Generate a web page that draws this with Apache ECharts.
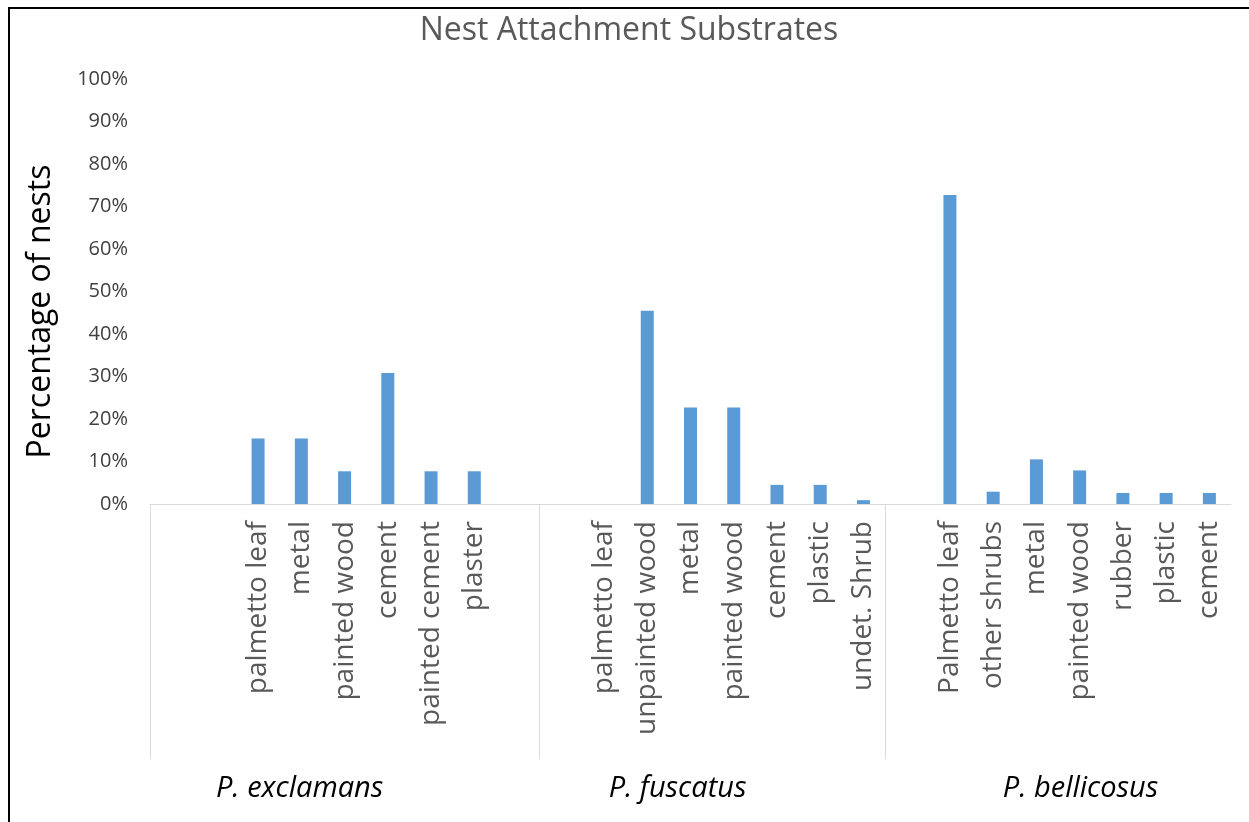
<!DOCTYPE html>
<html>
<head>
<meta charset="utf-8">
<script src="https://cdn.jsdelivr.net/npm/echarts@6/dist/echarts.min.js"></script>
<style>
  html, body { margin: 0; padding: 0; background: #fff; overflow: hidden; }
  #chart { width: 1249px; height: 822px; }
  #frame { position: absolute; left: 8px; top: 7px; width: 1300px; height: 900px;
           border-left: 2px solid #000; border-top: 2px solid #000; pointer-events: none; }
</style>
</head>
<body>
<div id="chart"></div>
<div id="frame"></div>
<script>
// ---- data (blank '' slots are empty categories in the source sheet) ----
const groups = ['P. exclamans', 'P. fuscatus', 'P. bellicosus'];
const exclamansCats = ['', '', 'palmetto leaf', 'metal', 'painted wood', 'cement', 'painted cement', 'plaster', ''];
const exclamansVals = [null, null, 15.4, 15.4, 7.7, 30.8, 7.7, 7.7, null];
const fuscatusCats = ['', 'palmetto leaf', 'unpainted wood', 'metal', 'painted wood', 'cement', 'plastic', 'undet. Shrub'];
const fuscatusVals = [null, 0, 45.5, 22.7, 22.7, 4.5, 4.5, 0.9];
const bellicosusCats = ['', 'Palmetto leaf', 'other shrubs', 'metal', 'painted wood', 'rubber', 'plastic', 'cement'];
const bellicosusVals = [null, 72.7, 2.9, 10.5, 7.9, 2.6, 2.6, 2.6];
const yTicks = [0, 10, 20, 30, 40, 50, 60, 70, 80, 90, 100];

// ---- build ----
const groupCats = [exclamansCats, fuscatusCats, bellicosusCats];
const categories = [].concat(exclamansCats, fuscatusCats, bellicosusCats);
const values = [].concat(exclamansVals, fuscatusVals, bellicosusVals);
const boundaries = [];
let acc = 0;
groupCats.forEach(g => { boundaries.push(acc); acc += g.length; });
const nSlots = acc;
// layout: where each group name sits along the slot axis (slot units)
const groupLabelAt = [3.46, 12.2, 21.52];

const FONT = '"Open Sans", "Noto Sans", sans-serif';
const chart = echarts.init(document.getElementById('chart'), null, { renderer: 'canvas' });
chart.setOption({
  backgroundColor: '#fff',
  animation: false,
  title: {
    text: 'Nest Attachment Substrates',
    left: 624, textAlign: 'center', top: 10,
    textStyle: { fontFamily: FONT, fontSize: 32, fontWeight: 'normal', color: '#595959' }
  },
  grid: { left: 150, top: 79, width: nSlots * 43.24, height: 425, containLabel: false },
  xAxis: [
    {
      type: 'category', data: categories, position: 'bottom',
      axisLine: { lineStyle: { color: '#d9d9d9', width: 1 } },
      axisTick: { show: false },
      axisLabel: { interval: 0, rotate: 90, margin: 17, fontFamily: FONT, fontSize: 28, color: '#595959' },
      splitLine: { show: false }
    },
    {
      type: 'value', min: 0, max: nSlots, position: 'bottom', offset: 0,
      axisLine: { show: false },
      axisTick: { show: true, customValues: boundaries, length: 255, lineStyle: { color: '#d9d9d9', width: 1 } },
      axisLabel: {
        show: true, customValues: groupLabelAt, margin: 270,
        fontFamily: FONT, fontSize: 29, fontStyle: 'italic', color: '#000',
        formatter: v => { const i = groupLabelAt.indexOf(v); return i >= 0 ? groups[i] : ''; }
      },
      splitLine: { show: false }
    }
  ],
  yAxis: {
    type: 'value', min: yTicks[0], max: yTicks[yTicks.length - 1], interval: 10,
    name: 'Percentage of nests', nameLocation: 'middle', nameGap: 93, nameRotate: 90,
    nameTextStyle: { fontFamily: FONT, fontSize: 32, color: '#000', padding: [0, 40, 0, 0] },
    axisLine: { show: false }, axisTick: { show: false }, splitLine: { show: false },
    axisLabel: { margin: 22, fontFamily: FONT, fontSize: 20, color: '#404040', formatter: v => v + '%' }
  },
  series: [{
    type: 'bar', data: values, barWidth: 13, xAxisIndex: 0,
    itemStyle: { color: '#5b9bd5' }
  }]
});
</script>
</body>
</html>
